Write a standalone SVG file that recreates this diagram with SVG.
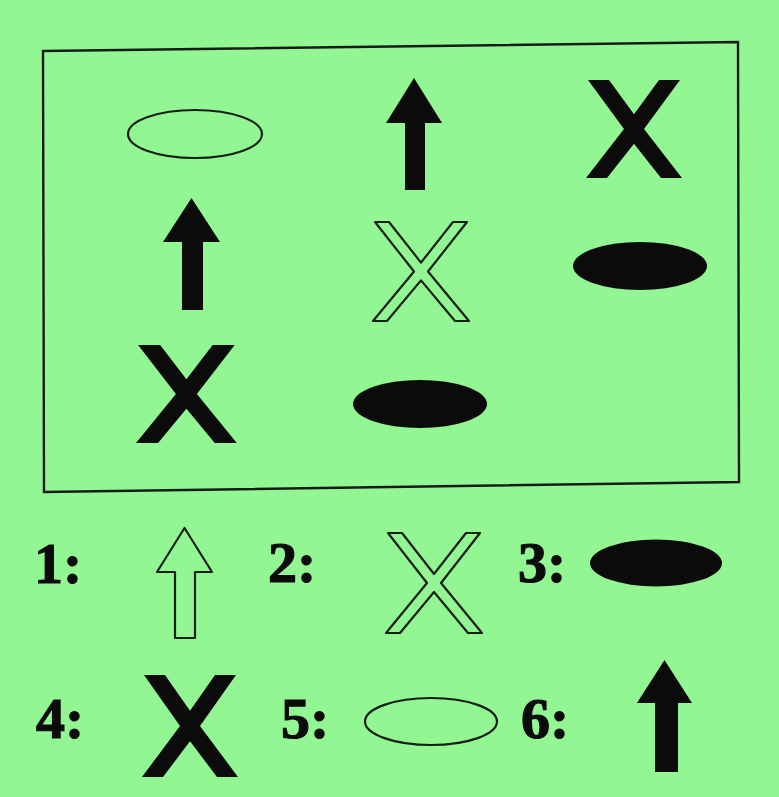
<svg xmlns="http://www.w3.org/2000/svg" width="779" height="797" viewBox="0 0 779 797">
  <style>
    .solid { fill: #0b0b0b; stroke: none; }
    .hollow { fill: none; stroke: #142014; stroke-width: 2.2; stroke-linejoin: round; }
    .frame { fill: none; stroke: #1a1a1a; stroke-width: 2.4; }
    .lbl { font-family: "Liberation Serif", "Times New Roman", serif; font-weight: bold; font-size: 58px; fill: #0b0b0b; stroke: #0b0b0b; stroke-width: 1.2; }
  </style>
  <defs>
    <polygon id="xSolid" points="2,0 23,0 48,35 73,0 94,0 58,50 96,100 75,100 48,65 21,100 0,100 38,50"/>
    <polygon id="xHollow" points="2,0 16,0 48,41 80,0 94,0 55,50 96,100 82,100 48,59 14,100 0,100 41,50"/>
  </defs>
  <rect x="0" y="0" width="779" height="797" fill="#92f792"/>

  <g id="frame">
    <polygon class="frame" points="43,51 738,42 739,482 44,492"/>
  </g>

  <!-- Grid row 1 -->
  <g id="grid-r1c1">
    <ellipse class="hollow" cx="195" cy="134" rx="67" ry="24"/>
  </g>
  <g id="grid-r1c2">
    <polygon class="solid" points="414,78 442,123 425,123 425,190 405,190 405,123 386,123"/>
  </g>
  <g id="grid-r1c3">
    <use href="#xSolid" class="solid" transform="translate(586,80) scale(1,0.98)"/>
  </g>

  <!-- Grid row 2 -->
  <g id="grid-r2c1">
    <polygon class="solid" points="191.5,198 220,242 203,242 203,310 182,310 182,242 163,242"/>
  </g>
  <g id="grid-r2c2">
    <use href="#xHollow" class="hollow" transform="translate(373,222) scale(1,0.99)"/>
  </g>
  <g id="grid-r2c3">
    <ellipse class="solid" cx="640" cy="266" rx="67" ry="24"/>
  </g>

  <!-- Grid row 3 -->
  <g id="grid-r3c1">
    <use href="#xSolid" class="solid" transform="translate(136,345) scale(1.05,0.98)"/>
  </g>
  <g id="grid-r3c2">
    <ellipse class="solid" cx="420" cy="404" rx="67" ry="24"/>
  </g>

  <!-- Options -->
  <g id="option-1">
    <text class="lbl" x="34" y="583">1:</text>
    <polygon class="hollow" points="184.5,528 212,572 195,572 195,638 175,638 175,572 157,572"/>
  </g>
  <g id="option-2">
    <text class="lbl" x="268" y="582">2:</text>
    <use href="#xHollow" class="hollow" transform="translate(386,533)"/>
  </g>
  <g id="option-3">
    <text class="lbl" x="518" y="582">3:</text>
    <ellipse class="solid" cx="656" cy="563" rx="66" ry="23.5"/>
  </g>
  <g id="option-4">
    <text class="lbl" x="36" y="738">4:</text>
    <use href="#xSolid" class="solid" transform="translate(142,675) scale(1,1.02)"/>
  </g>
  <g id="option-5">
    <text class="lbl" x="281" y="738">5:</text>
    <ellipse class="hollow" cx="431" cy="721.5" rx="66" ry="23.5"/>
  </g>
  <g id="option-6">
    <text class="lbl" x="521" y="738">6:</text>
    <polygon class="solid" points="664.5,660 692,703 678,703 678,772 655,772 655,703 637,703"/>
  </g>
</svg>
